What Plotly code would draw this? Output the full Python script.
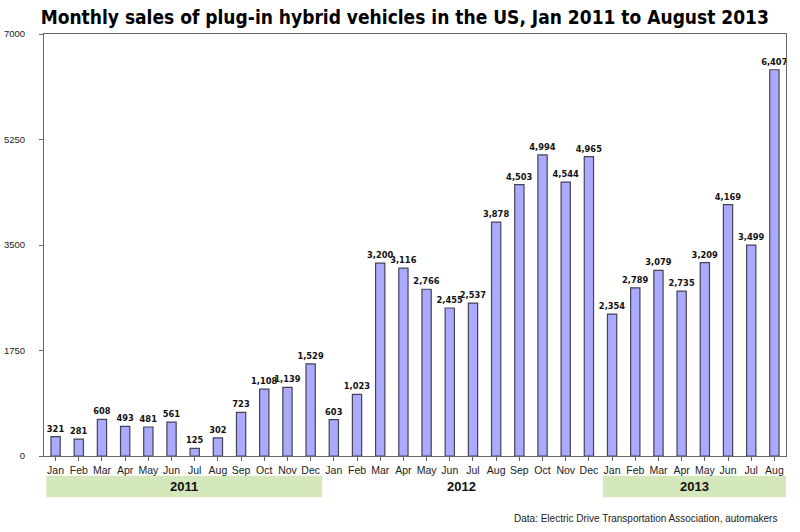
import plotly.graph_objects as go

months = ["Jan","Feb","Mar","Apr","May","Jun","Jul","Aug","Sep","Oct","Nov","Dec"]
sales_2011 = [321, 281, 608, 493, 481, 561, 125, 302, 723, 1108, 1139, 1529]
sales_2012 = [603, 1023, 3200, 3116, 2766, 2455, 2537, 3878, 4503, 4994, 4544, 4965]
sales_2013 = [2354, 2789, 3079, 2735, 3209, 4169, 3499, 6407]
years = ["2011", "2012", "2013"]
y_ticks = [0, 1750, 3500, 5250, 7000]

values = sales_2011 + sales_2012 + sales_2013
labels = months + months + months[:8]
xs = list(range(len(values)))

fig = go.Figure()
fig.add_trace(go.Bar(
    x=xs, y=values,
    marker=dict(color="#aaaaff", line=dict(color="#444455", width=1.2)),
    width=0.4,
    text=[f"<b>{v:,}</b>" for v in values],
    textposition="outside",
    constraintext="none",
    textfont=dict(family="DejaVu Sans", size=8.3, color="#111111"),
    cliponaxis=False,
    hoverinfo="skip",
))

# year bands
n11, n12, n13 = len(sales_2011), len(sales_2012), len(sales_2013)
bands = [(-0.4, n11 - 0.5, years[0], True),
         (n11 - 0.5, n11 + n12 - 0.5, years[1], False),
         (n11 + n12 - 0.4, n11 + n12 + n13 - 0.45, years[2], True)]
for x0, x1, yr, shade in bands:
    if shade:
        fig.add_shape(type="rect", xref="x", yref="paper", x0=x0, x1=x1,
                      y0=-0.098, y1=-0.047, fillcolor="#d5e8bc", line=dict(width=0), layer="below")
    fig.add_annotation(x=(x0 + x1) / 2, xref="x", y=-0.073, yref="paper", yanchor="middle",
                       text=f"<b>{yr}</b>", showarrow=False,
                       font=dict(family="Liberation Sans", size=13, color="#111111"))

fig.add_annotation(x=0.99, xref="paper", y=-0.149, yref="paper", xanchor="right", yanchor="middle",
                   text="Data: Electric Drive Transportation Association, automakers",
                   showarrow=False, font=dict(family="Liberation Sans", size=10, color="#222222"))

fig.update_layout(
    width=800, height=532,
    margin=dict(l=44, r=14, t=34, b=76),
    paper_bgcolor="white", plot_bgcolor="white",
    showlegend=False,
    title=dict(text="<b>Monthly sales of plug-in hybrid vehicles in the US, Jan 2011 to August 2013</b>",
               x=0.506, xanchor="center", y=0.968, yanchor="middle",
               font=dict(family="DejaVu Sans Condensed, Liberation Sans", size=19, color="#000000")),
    xaxis=dict(tickmode="array", tickvals=xs, ticktext=labels, range=[-0.5, len(values) - 0.5],
               showline=True, linecolor="#666666", linewidth=1, mirror=True, automargin=False,
               ticks="outside", ticklen=4, tickcolor="#666666", tickson="boundaries",
               showgrid=False, tickfont=dict(family="Liberation Sans", size=10.5, color="#222222")),
    yaxis=dict(range=[0, 7000], tickvals=y_ticks, ticktext=[str(t) for t in y_ticks],
               showline=True, linecolor="#666666", linewidth=1, mirror=True, automargin=False,
               ticks="outside", ticklen=4, tickcolor="#666666", ticklabelstandoff=12,
               showgrid=False, zeroline=False,
               tickfont=dict(family="Liberation Sans", size=9.5, color="#222222")),
)

fig.write_html("out.html")
